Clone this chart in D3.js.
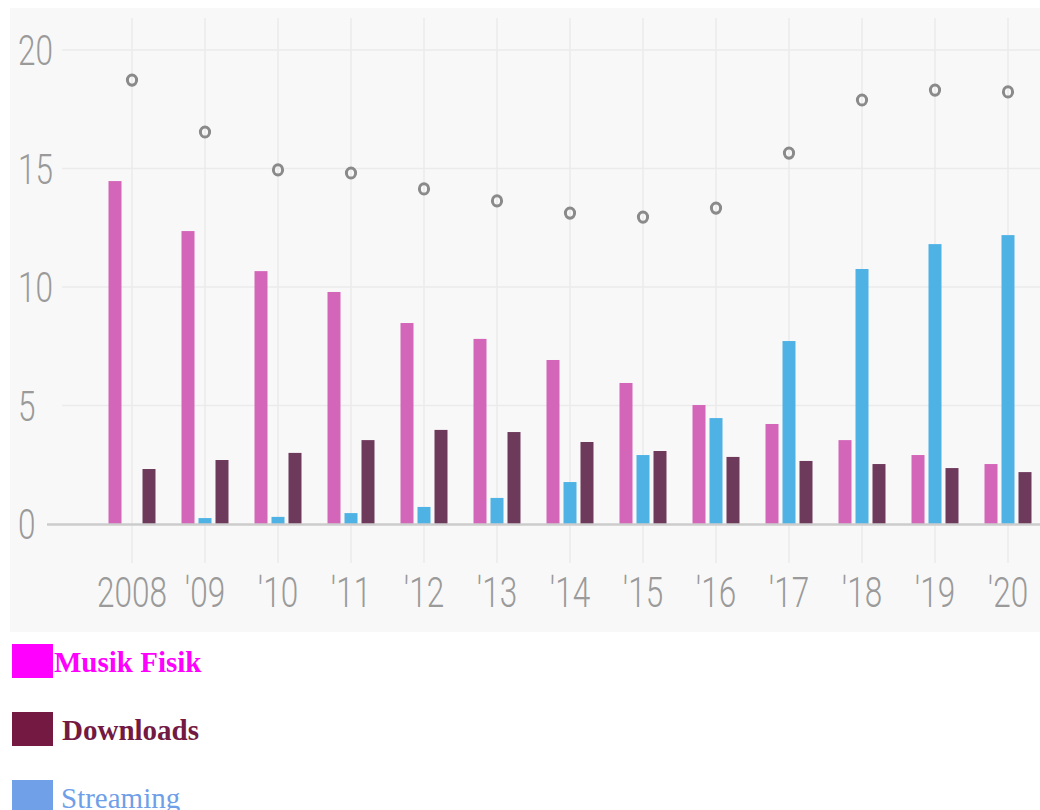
<!DOCTYPE html>
<html><head><meta charset="utf-8">
<script src="https://cdn.jsdelivr.net/npm/d3@7"></script>
<style>body{margin:0;background:#fff;}svg{display:block;}</style>
</head><body>
<svg id="chart" width="1040" height="810"></svg>
<script>
const categories = ["2008","'09","'10","'11","'12","'13","'14","'15","'16","'17","'18","'19","'20"];
const musikFisik = [14.47,12.36,10.67,9.79,8.48,7.81,6.92,5.95,5.02,4.22,3.54,2.91,2.53];
const streaming  = [0,0.25,0.3,0.46,0.72,1.1,1.77,2.91,4.47,7.72,10.76,11.81,12.19];
const downloads  = [2.32,2.7,3.0,3.54,3.97,3.88,3.46,3.08,2.83,2.66,2.53,2.36,2.19];
const totals     = [18.73,16.54,14.94,14.81,14.14,13.63,13.12,12.95,13.33,15.65,17.89,18.31,18.23];
const yTicks = [0,5,10,15,20];
const seriesNames = ["Musik Fisik","Streaming","Downloads"];

const svg = d3.select("#chart");
svg.append("rect").attr("x",10).attr("y",8).attr("width",1030).attr("height",624).attr("fill","#f8f8f8");

const x = d3.scalePoint().domain(categories).range([132,1008]);
const y = d3.scaleLinear().domain([0,20]).range([524,50]);
const sub = d3.scaleBand().domain(seriesNames).range([-23.5,23.5]).paddingInner(0.235);
const barColor = d3.scaleOrdinal().domain(seriesNames).range(["#d466ba","#4fb2e5","#6e3a5c"]);

// grid
svg.append("g").selectAll("line").data(categories).join("line")
  .attr("x1",d=>x(d)).attr("x2",d=>x(d)).attr("y1",18).attr("y2",563)
  .attr("stroke","#ebebeb").attr("stroke-width",1.5);
svg.append("g").selectAll("line").data(yTicks.filter(t=>t>0)).join("line")
  .attr("x1",62).attr("x2",1040).attr("y1",d=>y(d)).attr("y2",d=>y(d))
  .attr("stroke","#ebebeb").attr("stroke-width",1.5);

// y labels
svg.append("g").selectAll("text").data(yTicks).join("text")
  .attr("transform",d=>`translate(18,${y(d)+15}) scale(0.75,1)`)
  .attr("font-family","Roboto").attr("font-weight",300).attr("font-size",42)
  .attr("fill","#9a9a9a").text(d=>d);

// x labels
svg.append("g").selectAll("text").data(categories).join("text")
  .attr("transform",d=>`translate(${x(d)},607) scale(0.75,1)`)
  .attr("text-anchor","middle")
  .attr("font-family","Roboto").attr("font-weight",300).attr("font-size",42)
  .attr("fill","#9a9a9a").text(d=>d);

// bars
const rows = categories.map((c,i)=>({c, vals:[
  {k:"Musik Fisik",v:musikFisik[i]},{k:"Streaming",v:streaming[i]},{k:"Downloads",v:downloads[i]}]}));
const g = svg.append("g").selectAll("g").data(rows).join("g")
  .attr("transform",d=>`translate(${x(d.c)},0)`);
g.selectAll("rect").data(d=>d.vals.filter(e=>e.v>0)).join("rect")
  .attr("x",d=>sub(d.k)).attr("width",sub.bandwidth())
  .attr("y",d=>y(d.v)).attr("height",d=>y(0)-y(d.v))
  .attr("fill",d=>barColor(d.k));

// baseline
svg.append("line").attr("x1",47).attr("x2",1040).attr("y1",y(0)+0.5).attr("y2",y(0)+0.5)
  .attr("stroke","#cccccc").attr("stroke-width",2.5);

// totals
svg.append("g").selectAll("ellipse").data(totals).join("ellipse")
  .attr("cx",(d,i)=>x(categories[i])).attr("cy",d=>y(d)).attr("rx",4.6).attr("ry",5.1)
  .attr("fill","none").attr("stroke","#8a8a8a").attr("stroke-width",3);

// legend
const legend = [
  {name:"Musik Fisik", sw:"#ff00ff", col:"#ff00ff", weight:"bold", y:644, tx:54},
  {name:"Downloads", sw:"#731942", col:"#731942", weight:"bold", y:712, tx:62},
  {name:"Streaming", sw:"#6fa0e8", col:"#6f9fe8", weight:"normal", y:780, tx:61}
];
const lg = svg.append("g").selectAll("g").data(legend).join("g");
lg.append("rect").attr("x",12).attr("y",d=>d.y).attr("width",41).attr("height",34).attr("fill",d=>d.sw);
lg.append("text").attr("x",d=>d.tx).attr("y",d=>d.y+28)
  .attr("font-family","Liberation Serif, 'Times New Roman', serif").attr("font-size",29)
  .attr("font-weight",d=>d.weight).attr("fill",d=>d.col).text(d=>d.name);
</script>
</body></html>
